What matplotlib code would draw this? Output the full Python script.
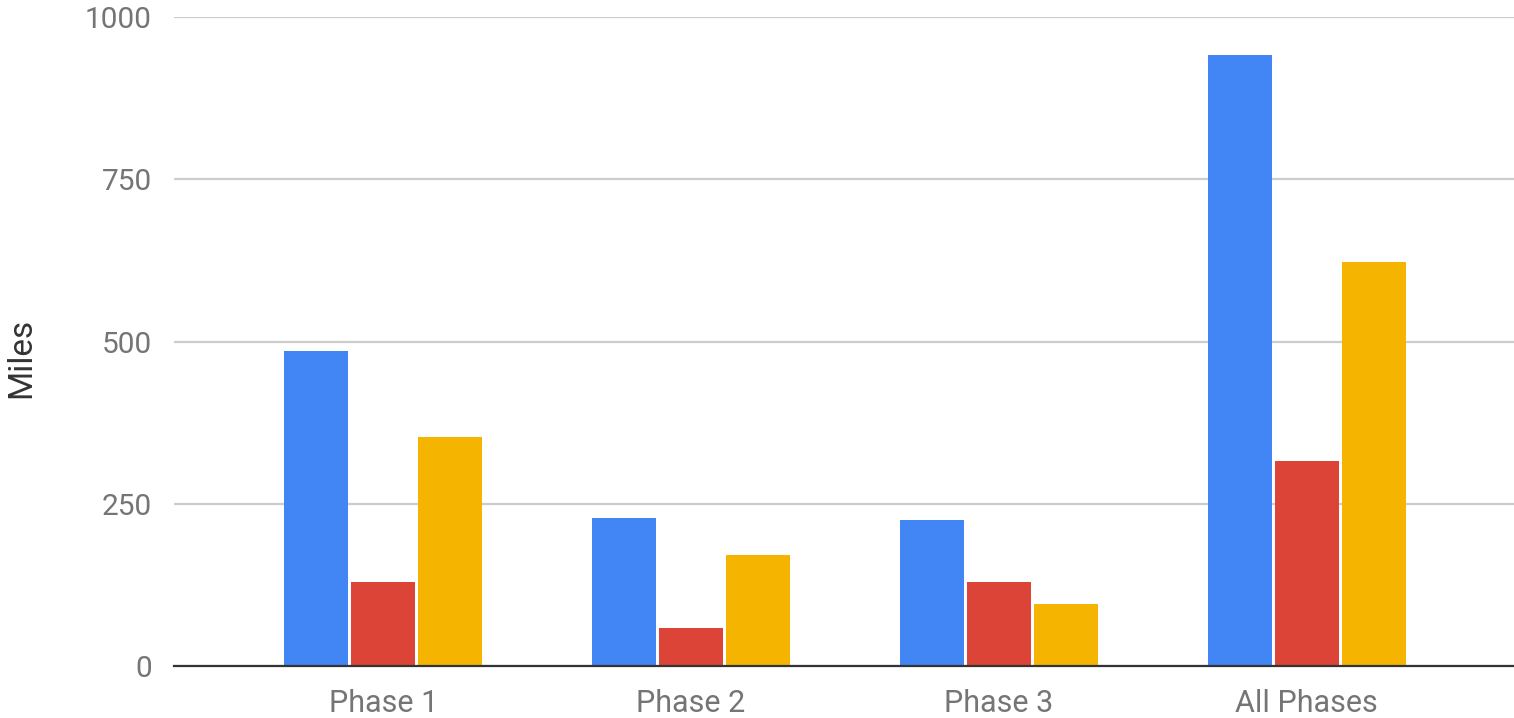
import matplotlib.pyplot as plt
import numpy as np

# data
categories = ["Phase 1", "Phase 2", "Phase 3", "All Phases"]
blue_vals = [485, 228, 225, 941]
red_vals = [129, 59, 129, 316]
yellow_vals = [353, 171, 96, 622]
y_ticks = [0, 250, 500, 750, 1000]

colors = ["#4285F4", "#DB4437", "#F4B400"]

plt.rcParams["font.family"] = ["Roboto", "DejaVu Sans"]

fig = plt.figure(figsize=(15.14, 7.18), dpi=100)
ax = fig.add_axes([0.115, 0.0724, 0.885, 0.9039])

x = np.arange(len(categories))
width = 0.209
step = 0.218

for i, (vals, c) in enumerate(zip([blue_vals, red_vals, yellow_vals], colors)):
    ax.bar(x + (i - 1) * step, vals, width, color=c, zorder=3)

# 軸の設定
ax.set_xlim(-0.679, 3.673)
ax.set_ylim(0, 1000)
ax.set_yticks(y_ticks)
ax.set_yticklabels([str(v) for v in y_ticks])
ax.set_xticks(x)
ax.set_xticklabels(categories)
ax.tick_params(axis="y", length=0, labelsize=21.5, labelcolor="#757575", pad=16)
ax.tick_params(axis="x", length=0, labelsize=22, labelcolor="#757575", pad=16.5)

ax.set_ylabel("Miles", fontsize=24, color="#333333")
ax.yaxis.set_label_coords(-0.102, 0.475)

# グリッド
ax.grid(axis="y", color="#CCCCCC", linewidth=1.6, zorder=0)
ax.set_axisbelow(True)

for s in ["top", "right", "left"]:
    ax.spines[s].set_visible(False)
ax.spines["bottom"].set_color("#333333")
ax.spines["bottom"].set_linewidth(1.6)
ax.spines["bottom"].set_zorder(4)

fig.savefig("out.png", dpi=100)
